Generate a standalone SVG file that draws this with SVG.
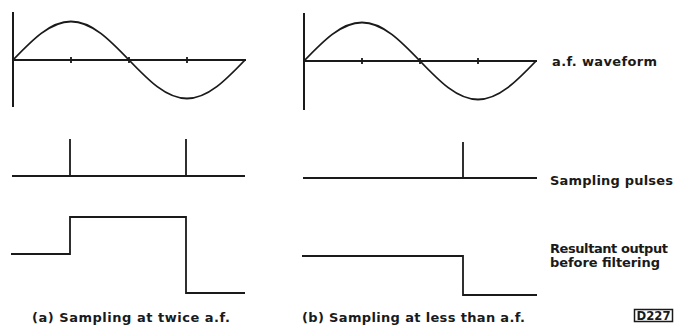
<svg xmlns="http://www.w3.org/2000/svg" xmlns:xlink="http://www.w3.org/1999/xlink" width="675" height="328" viewBox="0 0 675 328">
<style>
.ln{fill:none;stroke:#1a1a1a;stroke-width:1.8;stroke-linecap:butt;stroke-linejoin:miter}
.ax{fill:none;stroke:#1a1a1a;stroke-width:2}
.t{font-family:"DejaVu Sans","Liberation Sans",sans-serif;font-weight:bold;font-size:13px;fill:#1a1a1a}
</style>
<defs>
<path id="sine" d="M0,0 C18.92,-19.72 37.01,-38.5 58,-38.5 C78.99,-38.5 97.08,-19.72 116,0 C134.92,19.72 153.01,38.5 174,38.5 C194.99,38.5 213.08,19.72 232,0"/>
<path id="ticks" d="M58,-3 V3 M116,-3 V3 M174,-3 V3"/>
</defs>
<rect width="675" height="328" fill="#ffffff"/>
<g id="waveform-a">
<line class="ax" x1="13" y1="12" x2="13" y2="107"/>
<line class="ln" x1="13" y1="60" x2="246" y2="60"/>
<use xlink:href="#sine" href="#sine" class="ln" transform="translate(13,60)"/>
<use xlink:href="#ticks" href="#ticks" class="ln" transform="translate(13,60)"/>
</g>
<g id="waveform-b">
<line class="ax" x1="304" y1="13" x2="304" y2="110"/>
<line class="ln" x1="304" y1="61" x2="537" y2="61"/>
<use xlink:href="#sine" href="#sine" class="ln" transform="translate(304,61)"/>
<use xlink:href="#ticks" href="#ticks" class="ln" transform="translate(304,61)"/>
</g>
<g id="pulses-a">
<path class="ln" d="M12,176 H245 M70,176 V139 M186,176 V139"/>
</g>
<g id="pulses-b">
<path class="ln" d="M303,178 H537 M463,178 V142"/>
</g>
<g id="output-a">
<path class="ln" d="M11,254 H70 V217 H186 V293 H245"/>
</g>
<g id="output-b">
<path class="ln" d="M302,256 H463 V295 H537"/>
</g>
<g id="labels">
<text class="t" x="552" y="66" textLength="105" lengthAdjust="spacing">a.f. waveform</text>
<text class="t" x="550" y="185" textLength="123" lengthAdjust="spacing">Sampling pulses</text>
<text class="t" x="550" y="253" textLength="118" lengthAdjust="spacing">Resultant output</text>
<text class="t" x="550" y="267" textLength="110" lengthAdjust="spacing">before filtering</text>
<text class="t" x="32" y="322" textLength="198" lengthAdjust="spacing">(a) Sampling at twice a.f.</text>
<text class="t" x="302" y="322" textLength="223" lengthAdjust="spacing">(b) Sampling at less than a.f.</text>
</g>
<g id="ref-D227">
<rect x="634.5" y="309.5" width="38" height="12" fill="#ffffff" stroke="#1a1a1a" stroke-width="1.5"/>
<text class="t" x="636.5" y="320" font-size="11.5px" style="font-size:11.5px" textLength="34" lengthAdjust="spacingAndGlyphs">D227</text>
</g>
</svg>
